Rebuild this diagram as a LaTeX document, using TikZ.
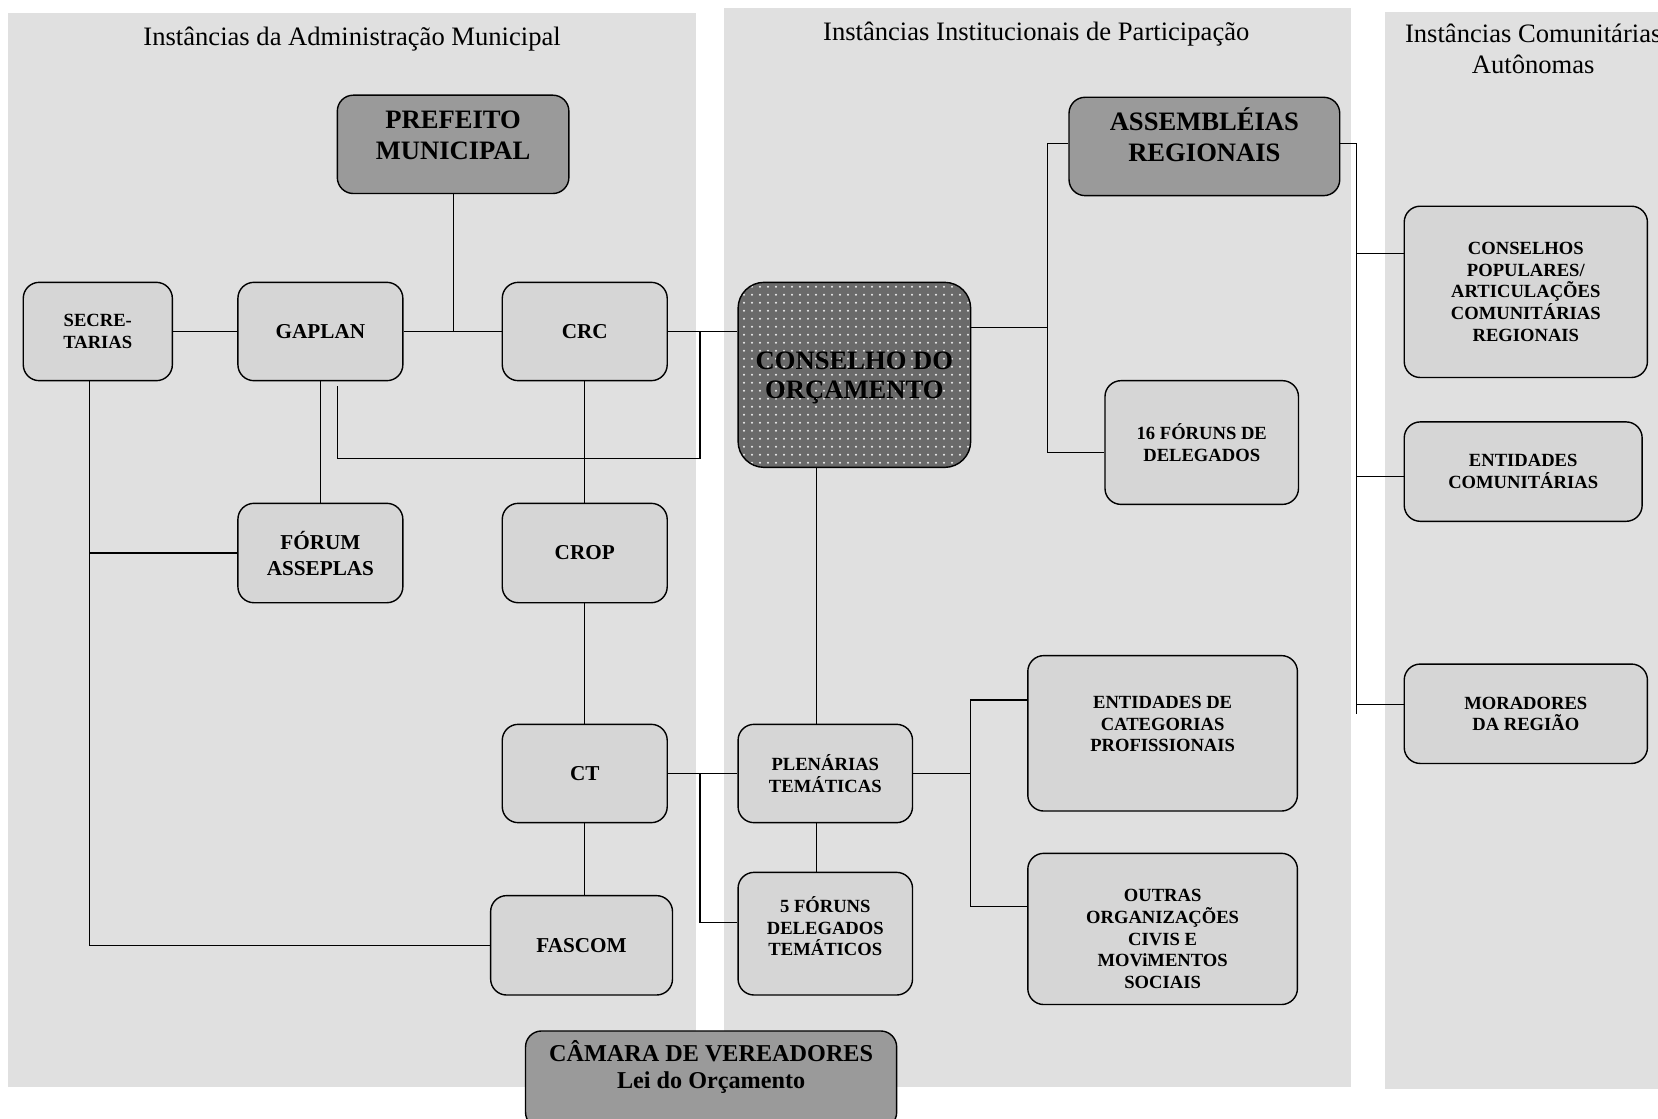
\documentclass[tikz,border=0pt]{standalone}
\usepackage{fontspec}
\setmainfont{Liberation Serif}
\usetikzlibrary{patterns}
\newcommand{\un}{0.5287pt}
\definecolor{panelgray}{HTML}{E0E0E0}
\definecolor{boxgray}{HTML}{D6D6D6}
\definecolor{headgray}{HTML}{9A9A9A}
\definecolor{councilgray}{HTML}{6A6A6A}
\pgfdeclarepatternformonly{councildots}{\pgfqpoint{-1pt}{-1pt}}{\pgfqpoint{1pt}{1pt}}{\pgfqpoint{4pt}{4pt}}{%
	\pgfpathcircle{\pgfqpoint{0pt}{0pt}}{0.55pt}\pgfusepath{fill}}
\begin{document}
\begin{tikzpicture}[x=\un, y=-\un,
	panel/.style={fill=panelgray},
	link/.style={line width=0.55pt},
	boxsize/.style 2 args={minimum width=#1*\un, minimum height=#2*\un},
	lightbox/.style={draw, line width=0.7pt, rounded corners=8pt, fill=boxgray, align=center, inner sep=0pt, font=\bfseries\fontsize{9.3}{10.8}\selectfont},
	midbox/.style={lightbox, font=\bfseries\fontsize{10.6}{13}\selectfont},
	boxtext/.style={align=center, inner sep=0pt, font=\bfseries\fontsize{9.3}{10.8}\selectfont},
	headbox/.style={draw, line width=0.7pt, rounded corners=8pt, fill=headgray, inner sep=0pt},
	headtext/.style={align=center, inner sep=0pt, font=\bfseries\fontsize{13.3}{15.3}\selectfont},
	title/.style={align=center, inner sep=0pt, font=\fontsize{13.3}{15.5}\selectfont}]
		\useasboundingbox (0,0) rectangle (1568,1058);
		\clip (0,0) rectangle (1568,1058);
		\fill[panel] (8,12) rectangle (658,1028);
		\fill[panel] (685,8) rectangle (1278,1028);
		\fill[panel] (1310,11) rectangle (1600,1030);
		\node[title] (titleAdmin) at (333,37) {Instâncias da Administração Municipal};
		\node[title] (titlePart) at (980,32) {Instâncias Institucionais de Participação};
		\node[title] (titleCom) at (1450,46) {Instâncias Comunitárias\\Autônomas};
		\node[headbox, boxsize={219}{93}] (nodePrefeito) at (428.5,136.5) {};
		\node[headtext] (textPrefeito) at (428.5,128) {PREFEITO\\MUNICIPAL};
		\node[headbox, boxsize={256}{93}] (nodeAssembleias) at (1139,138.5) {};
		\node[headtext] (textAssembleias) at (1139,127.5) {ASSEMBLÉIAS\\REGIONAIS};
		\node[lightbox, boxsize={141}{93}] (nodeSecretarias) at (92.5,313.5) {SECRE-\\TARIAS};
		\node[midbox, boxsize={156}{93}] (nodeGaplan) at (303,313.5) {GAPLAN};
		\node[midbox, boxsize={156}{93}] (nodeCrc) at (553,313.5) {CRC};
		\node[draw, line width=0.7pt, rounded corners=13pt, preaction={fill=councilgray}, pattern=councildots, pattern color=white!85!gray, boxsize={220}{175}] (nodeConselho) at (808,354.5) {};
		\node[headtext, font=\bfseries\fontsize{13.3}{14.8}\selectfont] (textConselho) at (808,357.5) {CONSELHO DO\\ORÇAMENTO};
		\node[lightbox, boxsize={183}{117}] (nodeForuns16) at (1136.5,418.5) {16 FÓRUNS DE\\DELEGADOS};
		\node[lightbox, boxsize={230}{162}] (nodeConspop) at (1443,276) {CONSELHOS\\POPULARES/\\ARTICULAÇÕES\\COMUNITÁRIAS\\REGIONAIS};
		\node[lightbox, boxsize={225}{94}] (nodeEntcom) at (1440.5,446) {ENTIDADES\\COMUNITÁRIAS};
		\node[midbox, boxsize={156}{94}] (nodeAsseplas) at (303,523) {FÓRUM\\ASSEPLAS};
		\node[midbox, boxsize={156}{94}] (nodeCrop) at (553,523) {CROP};
		\node[lightbox, boxsize={255}{147}] (nodeEntcat) at (1099.5,693.5) {};
		\node[boxtext] (textEntcat) at (1099.5,685) {ENTIDADES DE\\CATEGORIAS\\PROFISSIONAIS};
		\node[lightbox, boxsize={230}{94}] (nodeMoradores) at (1443,675) {MORADORES\\DA REGIÃO};
		\node[midbox, boxsize={156}{93}] (nodeCt) at (553,731.5) {CT};
		\node[lightbox, boxsize={165}{93}] (nodePlenarias) at (780.5,731.5) {PLENÁRIAS\\TEMÁTICAS};
		\node[midbox, boxsize={172}{94}] (nodeFascom) at (550,894) {FASCOM};
		\node[lightbox, boxsize={165}{116}] (nodeForuns5) at (780.5,883) {};
		\node[boxtext] (textForuns5) at (780.5,876) {5 FÓRUNS\\DELEGADOS\\TEMÁTICOS};
		\node[lightbox, boxsize={255}{143}] (nodeOutras) at (1099.5,878.5) {};
		\node[boxtext] (textOutras) at (1099.5,888) {OUTRAS\\ORGANIZAÇÕES\\CIVIS E\\MOViMENTOS\\SOCIAIS};
		\node[headbox, boxsize={351}{92}] (nodeCamara) at (672.5,1021) {};
		\node[headtext, font=\bfseries\fontsize{12.1}{13.8}\selectfont] (textCamara) at (672.5,1009) {CÂMARA DE VEREADORES\\Lei do Orçamento};
		\coordinate (loopTop) at (662,313.5);
		\coordinate (loopFoot) at (319,365);
		\coordinate (secFoot) at (85,894);
		\coordinate (ctJoin) at (662,731.5);
		\coordinate (plenLine) at (772,0);
		\coordinate (plenJoin) at (918,731.5);
		\coordinate (consJoin) at (991,310);
		\coordinate (asmEnd) at (1283,675);
		\draw[link] (nodeSecretarias) -- (nodeGaplan);
		\draw[link] (nodeGaplan) -- (nodeCrc);
		\draw[link] (nodePrefeito) -- (nodePrefeito |- nodeGaplan);
		\draw[link] (nodeCrc.east) -- (nodeCrc.east -| nodeConselho.west);
		\draw[link] (loopTop) -- (loopTop |- 0,434) -| (loopFoot);
		\draw[link] (nodeGaplan) -- (nodeAsseplas);
		\draw[link] (nodeSecretarias.south -| secFoot) -- (secFoot) -- (nodeFascom.west);
		\draw[link] (nodeAsseplas) -- (nodeAsseplas -| secFoot);
		\draw[link] (nodeCrc) -- (nodeCrop);
		\draw[link] (nodeCrop) -- (nodeCt);
		\draw[link] (nodeCt) -- (nodeCt |- nodeFascom.north);
		\draw[link] (nodeCt) -- (nodePlenarias);
		\draw[link] (ctJoin) |- (nodeForuns5.west |- 0,872);
		\draw[link] (plenLine |- nodeConselho.south) -- (plenLine |- nodePlenarias.north);
		\draw[link] (plenLine |- nodePlenarias.south) -- (plenLine |- nodeForuns5.north);
		\draw[link] (nodePlenarias) -- (plenJoin);
		\draw[link] (nodeEntcat.west |- 0,662) -| (plenJoin) |- (nodeOutras.west |- 0,857);
		\draw[link] (nodeConselho.east |- consJoin) -- (consJoin);
		\draw[link] (nodeAssembleias.west |- 0,136) -| (consJoin) |- (nodeForuns16.west |- 0,428);
		\draw[link] (nodeAssembleias.east |- 0,136) -| (asmEnd);
		\draw[link] (nodeConspop.west |- 0,240) -- (asmEnd |- 0,240);
		\draw[link] (nodeEntcom.west |- 0,451) -- (asmEnd |- 0,451);
		\draw[link] (nodeMoradores.west |- 0,666) -- (asmEnd |- 0,666);
\end{tikzpicture}
\end{document}
